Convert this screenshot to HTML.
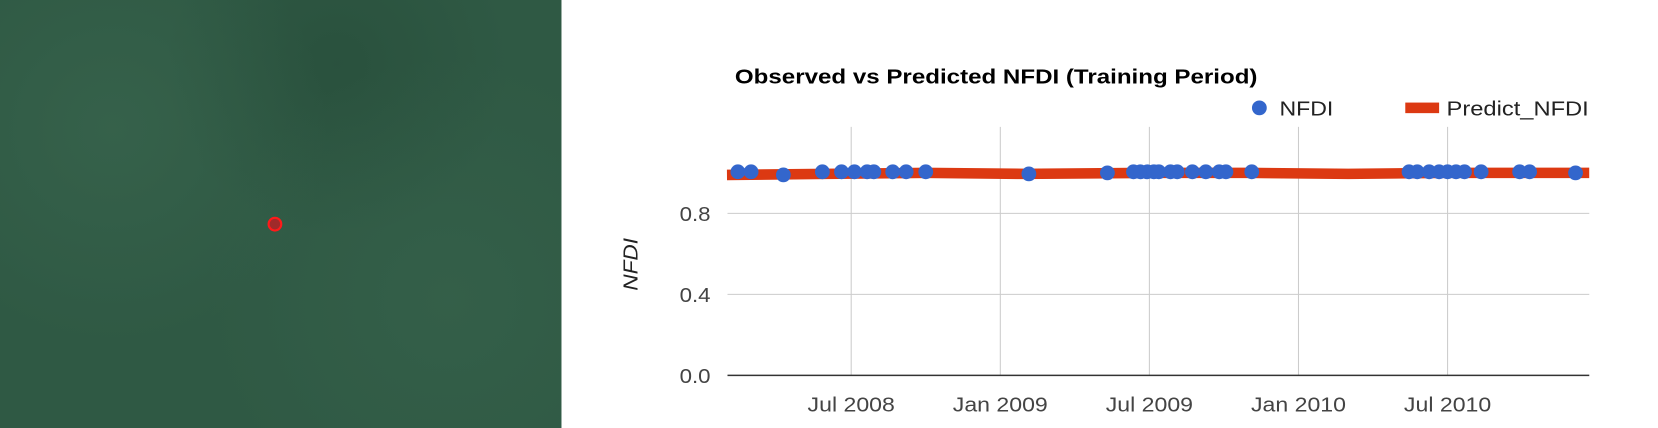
<!DOCTYPE html>
<html><head><meta charset="utf-8"><style>
html,body{margin:0;padding:0;background:#fff;width:1658px;height:428px;overflow:hidden;font-family:"Liberation Sans",sans-serif}
#wrap{position:absolute;left:0;top:0;width:1568px;height:405px;transform:scale(1.0574);transform-origin:0 0}
#map{position:absolute;left:0;top:0;width:531px;height:405px;background:#2f5944;background-image:radial-gradient(circle at 20% 30%,rgba(80,130,100,.2),transparent 40%),radial-gradient(circle at 80% 70%,rgba(80,130,100,.15),transparent 45%),radial-gradient(circle at 60% 15%,rgba(20,50,35,.2),transparent 35%)}
#dot{position:absolute;left:253px;top:205px;width:10px;height:10px;border-radius:50%;background:#a02a2a;border:2px solid #ff1a1a}
svg{position:absolute;left:0;top:0}
</style></head><body>
<div id="wrap">
<div id="map"><div id="dot"></div></div>
<svg id="chart" width="1568" height="405"></svg>
</div>
<script>
const xTickLabels=["Jul 2008","Jan 2009","Jul 2009","Jan 2010","Jul 2010"];
const xTickMonths=[6,12,18,24,30];
const yTicks=[0,0.4,0.8];
const obsMonths=[1.44,1.97,3.27,4.84,5.61,6.13,6.64,6.91,7.67,8.21,9.0,13.15,16.31,17.36,17.64,17.91,18.18,18.38,18.85,19.12,19.73,20.27,20.81,21.08,22.12,28.45,28.78,29.26,29.66,30.0,30.34,30.68,31.35,32.9,33.3,35.15];
const obsValues=[1.0,1.0,0.985,1.0,1.0,1.0,1.0,1.0,1.0,1.0,1.0,0.99,0.995,1.0,1.0,1.0,1.0,1.0,1.0,1.0,1.0,1.0,1.0,1.0,1.0,1.0,1.0,1.0,1.0,1.0,1.0,1.0,1.0,1.0,1.0,0.995];
const predMonths=[1.0,5,9,13,18,22,26,30,35.7];
const predValues=[0.99,0.995,1.0,0.995,1.0,1.0,0.995,1.0,1.0];

const svg=document.getElementById('chart');
const NS='http://www.w3.org/2000/svg';
const X0=688,X1=1503,Y0=355;
const xs=m=>805+(m-6)*23.5;
const ys=v=>Y0-v*191.5;
function mk(t,a,txt){const e=document.createElementNS(NS,t);for(const k in a)e.setAttribute(k,a[k]);if(txt!=null)e.textContent=txt;svg.appendChild(e);return e;}
function widen(el,f){const w=el.getComputedTextLength();el.setAttribute('textLength',w*f);el.setAttribute('lengthAdjust','spacingAndGlyphs');}

let e=mk('text',{x:695,y:79,'font-size':19.5,'font-weight':'bold',fill:'#000'},'Observed vs Predicted NFDI (Training Period)');


widen(e,1.17);
e=mk('circle',{cx:1191,cy:102,r:7,fill:'#3366cc'});


e=mk('text',{x:1210,y:109,'font-size':19.5,fill:'#222'},'NFDI');


widen(e,1.12);
e=mk('rect',{x:1329,y:97,width:32,height:10,fill:'#dc3912'});


e=mk('text',{x:1368,y:109,'font-size':19.5,fill:'#222'},'Predict_NFDI');


widen(e,1.15);

yTicks.forEach(v=>{
  if(v>0){e=mk('line',{x1:X0,x2:X1,y1:ys(v),y2:ys(v),stroke:'#cccccc','stroke-width':1});
  
  }
  e=mk('text',{x:672,y:ys(v)+7,'font-size':19.5,fill:'#444','text-anchor':'end'},v.toFixed(1));
  
  
  widen(e,1.08);
});
xTickMonths.forEach((m,i)=>{
  e=mk('line',{x1:xs(m),x2:xs(m),y1:120,y2:Y0,stroke:'#cccccc','stroke-width':1});
  
  
  e=mk('text',{x:xs(m),y:389,'font-size':19.5,fill:'#444','text-anchor':'middle'},xTickLabels[i]);
  
  
  widen(e,1.12);
});
e=mk('line',{x1:X0,x2:X1,y1:Y0,y2:Y0,stroke:'#333','stroke-width':1.5});


e=mk('text',{x:603,y:250,'font-size':19.5,'font-style':'italic',fill:'#222','text-anchor':'middle',transform:'rotate(-90 603 250)'},'NFDI');


widen(e,1.1);

e=mk('polyline',{points:predMonths.map((m,i)=>xs(m)+','+ys(predValues[i])).join(' '),fill:'none',stroke:'#dc3912','stroke-width':10,'stroke-linejoin':'round'});


obsMonths.forEach((m,i)=>{
  const c=mk('circle',{cx:xs(m),cy:ys(obsValues[i])-1,r:7,fill:'#3366cc'});
  
  
});
</script>
</body></html>
